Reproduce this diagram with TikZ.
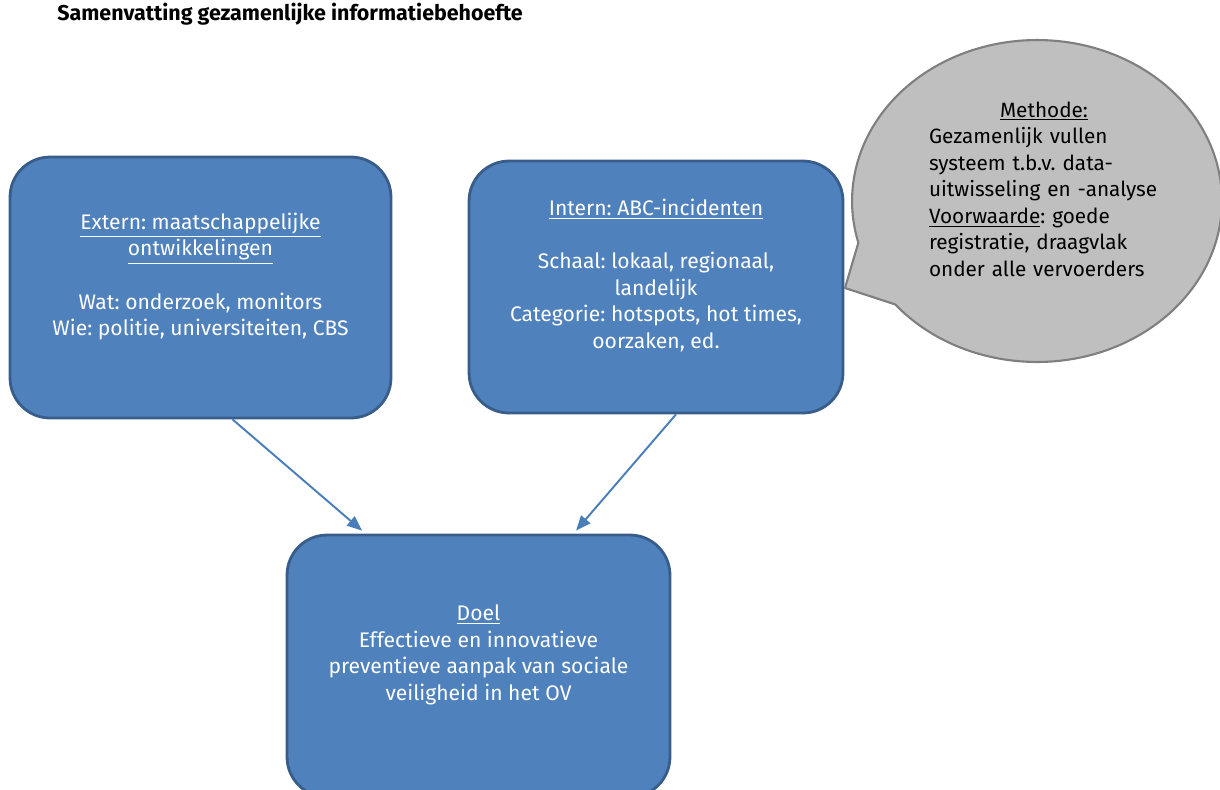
\documentclass[tikz,border=0pt]{standalone}
\usepackage{fontspec}
\setmainfont{Fira Sans}
\frenchspacing
\usetikzlibrary{arrows.meta, positioning, calc, shapes.callouts}
\definecolor{boxblue}{HTML}{4F81BD}
\definecolor{boxedge}{HTML}{385D8A}
\definecolor{arrowblue}{HTML}{4A7EBB}
\definecolor{bubblegray}{HTML}{BFBFBF}
\definecolor{bubbleedge}{HTML}{7F7F7F}

\begin{document}
\begin{tikzpicture}[x=0.02cm, y=-0.02cm, >={Triangle[length=3mm, width=2.4mm]},
  infobox/.style={draw=boxedge, fill=boxblue, line width=1.6pt, rounded corners=0.8cm,
    text=white, align=center, inner sep=0pt, font=\fontsize{12}{15.1}\selectfont},
  link/.style={->, arrowblue, line width=1.1pt}]

% Canvas
\useasboundingbox (0,0) rectangle (1220,789);
\clip (0,0) rectangle (1220,789);

% Title
\node[font=\bfseries\fontsize{12.2}{14}\selectfont, anchor=west, inner sep=0pt] (title) at (57,14)
  {Samenvatting gezamenlijke informatiebehoefte};

% Blue boxes
\node[infobox, minimum width=7.62cm, minimum height=5.22cm] (ext) at (200.5,287.5)
  {\underline{Extern: maatschappelijke}\\ \underline{ontwikkelingen}\\[15.1pt]
   Wat: onderzoek, monitors\\ Wie: politie, universiteiten, CBS\\ \mbox{}};
\node[infobox, minimum width=7.48cm, minimum height=5.04cm] (int) at (656,287)
  {\underline{Intern: ABC-incidenten}\\[15.1pt]
   Schaal: lokaal, regionaal,\\ landelijk\\ Categorie: hotspots, hot times,\\
   oorzaken, ed.\\ \mbox{}};
\node[infobox, minimum width=7.66cm, minimum height=5.24cm] (goal) at (478.5,666)
  {\underline{Doel}\\ Effectieve en innovatieve\\ preventieve aanpak van sociale\\
   veiligheid in het OV\\ \mbox{}};

% Speech bubble
\coordinate (tailtip) at (845,288);
\node[ellipse callout, draw=bubbleedge, fill=bubblegray, line width=1.2pt,
      minimum width=7.4cm, minimum height=6.44cm, inner sep=0pt,
      callout absolute pointer={(tailtip)}, callout pointer arc=25] (bubble) at (1037,201) {};
\node[text width=4.6cm, align=left, inner sep=0pt, font=\fontsize{11.8}{15.1}\selectfont]
  (method) at (1044,189)
  {\makebox[\linewidth]{\underline{Methode:}}\\ Gezamenlijk vullen\\ systeem t.b.v. data-\\
   uitwisseling en -analyse\\ \underline{Voorwaarde}: goede\\ registratie, draagvlak\\
   onder alle vervoerders};

% Arrows
\draw[link] ($(ext.south)+(32,0)$) -- ($(goal.north)+(-116.5,-3)$);
\draw[link] ($(int.south)+(20,0)$) -- ($(goal.north)+(97.5,-3)$);

\end{tikzpicture}
\end{document}
